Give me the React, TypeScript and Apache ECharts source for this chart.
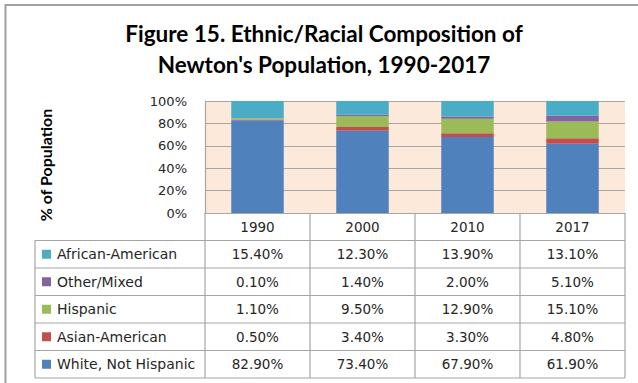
import React, { useEffect, useRef } from "react";
import * as echarts from "echarts";

// Census years shown on the category axis and in the data table header
const years = ["1990", "2000", "2010", "2017"];

// Share of population (%) by group, per year
const whiteNotHispanic = [82.9, 73.4, 67.9, 61.9];
const asianAmerican = [0.5, 3.4, 3.3, 4.8];
const hispanic = [1.1, 9.5, 12.9, 15.1];
const otherMixed = [0.1, 1.4, 2.0, 5.1];
const africanAmerican = [15.4, 12.3, 13.9, 13.1];

// Value axis ticks (percent)
const yTicks = [0, 20, 40, 60, 80, 100];

const titleLines = ["Figure 15. Ethnic/Racial Composition of", "Newton's Population, 1990-2017"];
const yAxisTitle = "% of Population";

// Stack order, bottom to top
const groups = [
  { name: "White, Not Hispanic", values: whiteNotHispanic, color: "#4F81BD" },
  { name: "Asian-American", values: asianAmerican, color: "#C0504D" },
  { name: "Hispanic", values: hispanic, color: "#9BBB59" },
  { name: "Other/Mixed", values: otherMixed, color: "#8064A2" },
  { name: "African-American", values: africanAmerican, color: "#4BACC6" },
];

const WIDTH = 638;
const HEIGHT = 383;
const PLOT_LEFT = 205;
const PLOT_RIGHT = 625;
const PLOT_TOP = 101;
const PLOT_BOTTOM = 213;
const HEADER_BOTTOM = 240.5;
const ROW_H = 27.5;
const TABLE_LEFT = 35;
const LINE_COLOR = "#a6a6a6";
const TEXT_COLOR = "#262626";
const BODY_FONT = "'DejaVu Sans', Verdana, sans-serif";
const BOLD_FONT = "Lato, 'Noto Sans', sans-serif";

function buildTable(): any[] {
  const els: any[] = [];
  const rows = [...groups].reverse();
  const colW = (PLOT_RIGHT - PLOT_LEFT) / years.length;
  const tableBottom = HEADER_BOTTOM + rows.length * ROW_H;
  const line = (x1: number, y1: number, x2: number, y2: number) => ({
    type: "line",
    silent: true,
    shape: { x1, y1, x2, y2 },
    style: { stroke: LINE_COLOR, lineWidth: 1.2 },
  });

  // horizontal rules
  for (let i = 0; i <= rows.length; i++) {
    const y = HEADER_BOTTOM + i * ROW_H;
    els.push(line(TABLE_LEFT, y, PLOT_RIGHT, y));
  }
  // vertical rules
  els.push(line(TABLE_LEFT, HEADER_BOTTOM, TABLE_LEFT, tableBottom));
  for (let c = 0; c <= years.length; c++) {
    const x = PLOT_LEFT + c * colW;
    els.push(line(x, PLOT_BOTTOM, x, tableBottom));
  }

  rows.forEach((g, r) => {
    const cy = HEADER_BOTTOM + r * ROW_H + ROW_H / 2;
    els.push({
      type: "rect",
      silent: true,
      shape: { x: 42, y: cy - 4.5, width: 9, height: 9 },
      style: { fill: g.color },
    });
    els.push({
      type: "text",
      silent: true,
      x: 57,
      y: cy,
      style: {
        text: g.name,
        fontFamily: BODY_FONT,
        fontSize: 14,
        fill: TEXT_COLOR,
        align: "left",
        verticalAlign: "middle",
      },
    });
    g.values.forEach((v, c) => {
      els.push({
        type: "text",
        silent: true,
        x: PLOT_LEFT + c * colW + colW / 2,
        y: cy,
        style: {
          text: v.toFixed(2) + "%",
          fontFamily: BODY_FONT,
          fontSize: 13.5,
          fill: TEXT_COLOR,
          align: "center",
          verticalAlign: "middle",
        },
      });
    });
  });
  return els;
}

export default function App() {
  const ref = useRef<HTMLDivElement>(null);

  useEffect(() => {
    if (!ref.current) return;
    const chart = echarts.init(ref.current, undefined, { renderer: "svg" });

    const graphics: any[] = [
      // chart frame (top and left edges)
      {
        type: "polyline",
        silent: true,
        shape: { points: [[5.5, HEIGHT], [5.5, 5], [WIDTH, 5]] },
        style: { stroke: "#a0a0a0", lineWidth: 2, fill: "none" },
      },
      ...titleLines.map((t, i) => ({
        type: "text",
        silent: true,
        x: 324,
        y: 33 + i * 31,
        style: {
          text: t,
          fontFamily: BOLD_FONT,
          fontWeight: "bold",
          fontSize: 22.5,
          fill: "#000",
          align: "center",
          verticalAlign: "middle",
        },
      })),
      {
        type: "text",
        silent: true,
        x: 45,
        y: 165,
        rotation: Math.PI / 2,
        style: {
          text: yAxisTitle,
          fontFamily: BOLD_FONT,
          fontWeight: "bold",
          fontSize: 16,
          fill: "#000",
          align: "center",
          verticalAlign: "middle",
        },
      },
      ...buildTable(),
    ];

    chart.setOption({
      animation: false,
      backgroundColor: "#ffffff",
      grid: {
        left: PLOT_LEFT,
        right: WIDTH - PLOT_RIGHT,
        top: PLOT_TOP,
        bottom: HEIGHT - PLOT_BOTTOM,
        show: true,
        backgroundColor: "#FDE9D9",
        borderWidth: 0,
      },
      xAxis: {
        type: "category",
        data: years,
        axisLine: { show: true, lineStyle: { color: LINE_COLOR, width: 1.2 } },
        axisTick: { show: false },
        axisLabel: {
          margin: 7,
          fontFamily: BODY_FONT,
          fontSize: 13.5,
          color: TEXT_COLOR,
        },
      },
      yAxis: {
        type: "value",
        min: yTicks[0],
        max: yTicks[yTicks.length - 1],
        interval: yTicks[1] - yTicks[0],
        axisLine: { show: true, lineStyle: { color: LINE_COLOR, width: 1.2 } },
        axisTick: { show: false },
        splitLine: { show: true, lineStyle: { color: LINE_COLOR, width: 1.2 } },
        axisLabel: {
          margin: 18,
          formatter: "{value}%",
          fontFamily: BODY_FONT,
          fontSize: 13,
          color: TEXT_COLOR,
        },
      },
      series: groups.map((g) => ({
        name: g.name,
        type: "bar",
        stack: "total",
        barWidth: "50%",
        data: g.values,
        itemStyle: { color: g.color },
      })),
      graphic: graphics,
    });

    return () => chart.dispose();
  }, []);

  return (
    <div
      ref={ref}
      style={{ position: "fixed", left: 0, top: 0, width: WIDTH, height: HEIGHT }}
    />
  );
}
